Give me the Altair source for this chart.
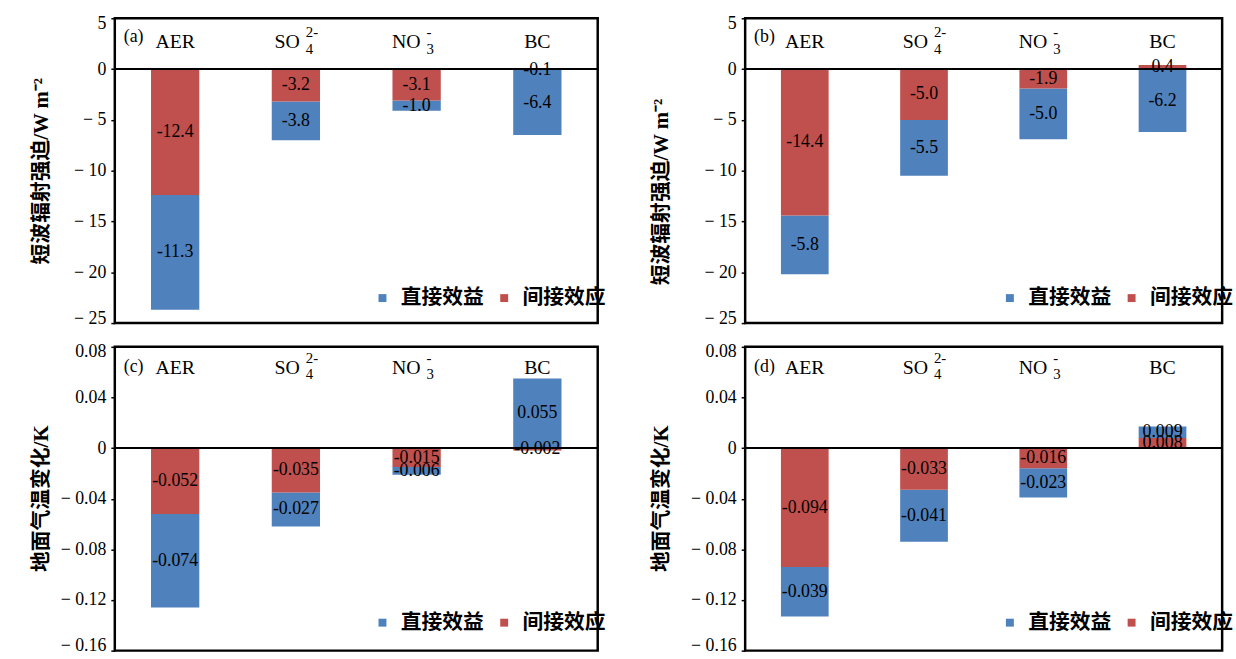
import altair as alt
import pandas as pd

# ---------------- data ----------------
categories = ["AER", "SO4", "NO3", "BC"]
cat_main = ["AER", "SO", "NO", "BC"]
cat_sub = ["", "4", "3", ""]
cat_sup = ["", "2-", "-", ""]

effects = ["直接效益", "间接效应"]

# (a) shortwave forcing, W m-2
direct_a = [-11.3, -3.8, -1.0, -6.4]
indirect_a = [-12.4, -3.2, -3.1, -0.1]
# (b)
direct_b = [-5.8, -5.5, -5.0, -6.2]
indirect_b = [-14.4, -5.0, -1.9, 0.4]
# (c) surface air temperature change, K
direct_c = [-0.074, -0.027, -0.006, 0.055]
indirect_c = [-0.052, -0.035, -0.015, -0.002]
# (d)
direct_d = [-0.039, -0.041, -0.023, 0.009]
indirect_d = [-0.094, -0.033, -0.016, 0.008]

ticks_sw = [-25, -20, -15, -10, -5, 0, 5]
ticks_t = [-0.16, -0.12, -0.08, -0.04, 0, 0.04, 0.08]

title_sw = "短波辐射强迫/W m⁻²"
title_t = "地面气温变化/K"

# ---------------- style ----------------
BLUE = "#4F81BD"
RED = "#C0504D"
SERIF = "Liberation Serif"
CJK = "Noto Sans CJK SC"
TITLE_FONT = "Liberation Serif, Noto Sans CJK SC"


def panel(direct, indirect, letter, ticks, fmt, decimals, title,
          width, height, cat_y, letter_y, title_x, title_y, legend_x, legend_y):
    df = pd.DataFrame({
        "cat": categories * 2,
        "effect": [effects[0]] * len(categories) + [effects[1]] * len(categories),
        "value": list(direct) + list(indirect),
        "ord": [1] * len(categories) + [0] * len(categories),
    })
    df["label"] = [f"{v:.{decimals}f}" for v in df["value"]]

    cat_df = pd.DataFrame({"cat": categories, "main": cat_main,
                           "sub": cat_sub, "sup": cat_sup})

    x = alt.X("cat:N", sort=categories,
              scale=alt.Scale(paddingInner=0.6, paddingOuter=0.3), axis=None)
    yscale = alt.Scale(domain=[ticks[0], ticks[-1]], nice=False, zero=False)

    label_expr = ("datum.value < 0 ? '\u2212 ' + format(-datum.value, '" + fmt +
                  "') : format(datum.value, '" + fmt + "')")

    bars = alt.Chart(df).mark_bar().encode(
        x=x,
        y=alt.Y("value:Q", stack="zero", scale=yscale,
                axis=alt.Axis(values=ticks, labelExpr=label_expr, title=title,
                              titleFont=TITLE_FONT, titleFontSize=21,
                              titleFontWeight="bold", titleColor="black",
                              titleX=title_x, titleY=title_y,
                              labelFont=SERIF, labelFontSize=18, labelColor="black",
                              labelFlush=True, labelFlushOffset=4,
                              tickColor="black", tickSize=4, tickWidth=1.5,
                              domain=False, grid=False, labelPadding=5)),
        color=alt.Color("effect:N",
                        scale=alt.Scale(domain=effects, range=[BLUE, RED]),
                        legend=alt.Legend(title=None, orient="none",
                                          legendX=legend_x, legendY=legend_y,
                                          direction="horizontal",
                                          symbolType="square", symbolSize=64,
                                          symbolStrokeWidth=0,
                                          labelFont=CJK, labelFontSize=21,
                                          labelFontWeight="bold",
                                          labelColor="black", labelOffset=8,
                                          columnPadding=10, padding=0)),
        order=alt.Order("ord:Q", sort="ascending"),
    )

    zero = alt.Chart(pd.DataFrame({"z": [0]})).mark_rule(
        color="black", strokeWidth=2).encode(y="z:Q")

    labels = alt.Chart(df).transform_stack(
        stack="value", groupby=["cat"], as_=["v0", "v1"],
        sort=[alt.SortField(field="ord", order="ascending")],
    ).transform_calculate(mid="(datum.v0 + datum.v1) / 2").mark_text(
        font=SERIF, fontSize=18, color="black", baseline="middle"
    ).encode(x=x, y="mid:Q", text="label:N")

    plain = alt.Chart(cat_df).transform_filter("datum.sub == ''").mark_text(
        font=SERIF, fontSize=20, color="black", baseline="middle"
    ).encode(x=x, y=alt.value(cat_y), text="main:N")
    chem = alt.Chart(cat_df).transform_filter("datum.sub != ''").mark_text(
        font=SERIF, fontSize=20, color="black", baseline="middle",
        align="right", dx=4
    ).encode(x=x, y=alt.value(cat_y), text="main:N")
    sub = alt.Chart(cat_df).transform_filter("datum.sub != ''").mark_text(
        font=SERIF, fontSize=15, color="black", baseline="middle",
        align="left", dx=10, dy=7
    ).encode(x=x, y=alt.value(cat_y), text="sub:N")
    sup = alt.Chart(cat_df).transform_filter("datum.sub != ''").mark_text(
        font=SERIF, fontSize=15, color="black", baseline="middle",
        align="left", dx=10, dy=-10
    ).encode(x=x, y=alt.value(cat_y), text="sup:N")

    tag = alt.Chart(pd.DataFrame({"t": [letter]})).mark_text(
        font=SERIF, fontSize=18, color="black", align="left", baseline="middle"
    ).encode(x=alt.value(9), y=alt.value(letter_y), text="t:N")

    return alt.layer(bars, zero, labels, plain, chem, sub, sup, tag).properties(
        width=width, height=height)


pa = panel(direct_a, indirect_a, "(a)", ticks_sw, "d", 1, title_sw,
           488, 308, 24, 19, -64, 154, 260, 272)
pb = panel(direct_b, indirect_b, "(b)", ticks_sw, "d", 1, title_sw,
           482, 308, 24, 19, -74, 175, 257, 272)
pc = panel(direct_c, indirect_c, "(c)", ticks_t, ".2~f", 3, title_t,
           488, 307, 21, 20, -64, 153, 260, 268)
pd_ = panel(direct_d, indirect_d, "(d)", ticks_t, ".2~f", 3, title_t,
            482, 307, 21, 20, -74, 153, 257, 268)

top = alt.hconcat(pa, pb, spacing=42).resolve_scale(
    color="independent").resolve_legend(color="independent")
bottom = alt.hconcat(pc, pd_, spacing=42).resolve_scale(
    color="independent").resolve_legend(color="independent")

chart = alt.vconcat(top, bottom, spacing=12).resolve_scale(
    color="independent").resolve_legend(color="independent").properties(
    padding={"left": 29, "top": 9, "right": 1, "bottom": 0},
    background="white",
).configure_view(stroke="black", strokeWidth=2.5)

chart.save("out.html", embed_options={"renderer": "svg", "actions": False})
